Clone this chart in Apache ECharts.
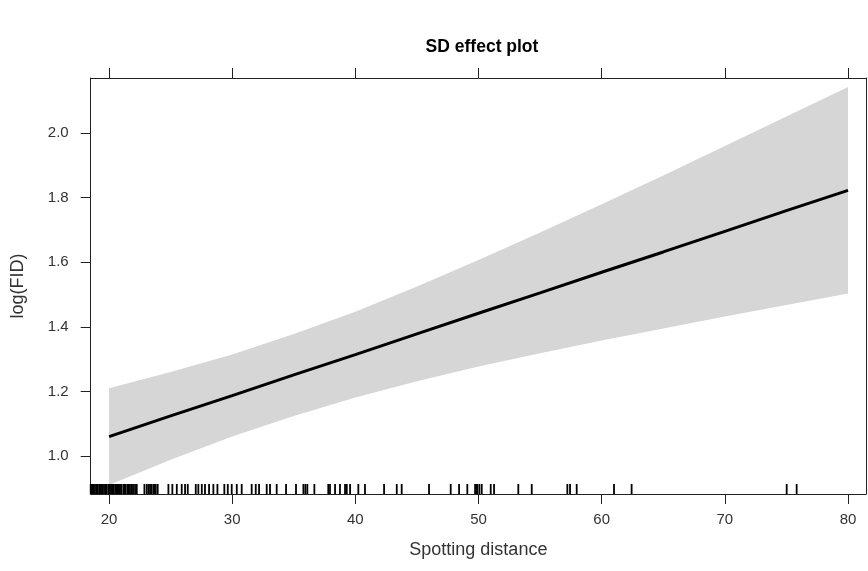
<!DOCTYPE html>
<html>
<head>
<meta charset="utf-8">
<script src="https://cdn.jsdelivr.net/npm/echarts@6/dist/echarts.min.js"></script>
<style>
html,body{margin:0;padding:0;background:#fff;}
#chart{width:868px;height:571px;}
</style>
</head>
<body>
<div id="chart"></div>
<script>
// ---- data ----
const xTicks = [20, 30, 40, 50, 60, 70, 80];
const yTicks = [1.0, 1.2, 1.4, 1.6, 1.8, 2.0];
const sd = [20, 25, 30, 35, 40, 45, 50, 55, 60, 65, 70, 75, 80];
const fit = [1.060, 1.124, 1.187, 1.251, 1.314, 1.378, 1.442, 1.505, 1.569, 1.632, 1.696, 1.760, 1.823];
const lower = [0.910, 0.988, 1.060, 1.124, 1.181, 1.231, 1.277, 1.318, 1.358, 1.395, 1.432, 1.468, 1.503];
const upper = [1.210, 1.260, 1.314, 1.378, 1.447, 1.525, 1.607, 1.692, 1.780, 1.869, 1.960, 2.052, 2.143];
const rugSD = [18.51, 18.55, 18.65, 18.75, 18.86, 19.00, 19.08, 19.20, 19.27, 19.35, 19.46, 19.59, 19.70,
  19.81, 19.95, 20.05, 20.16, 20.25, 20.35, 20.49, 20.60, 20.68, 20.80, 20.89, 21.00, 21.16, 21.25,
  21.35, 21.50, 21.60, 21.70, 21.84, 21.95, 22.11, 22.25, 22.87, 23.06, 23.20, 23.33, 23.45, 23.60,
  23.70, 23.79, 23.95, 24.82,
  25.14, 25.50, 25.90, 26.17, 26.39, 27.04, 27.25, 27.53, 27.79, 28.12, 28.47, 28.80, 29.36, 29.64,
  29.96, 30.37, 30.77, 31.58, 31.91, 32.18, 32.80, 33.07, 33.61, 34.37, 35.18, 35.78, 35.94, 36.10,
  36.67, 37.80, 37.94, 38.35, 38.75, 39.16, 39.30, 39.57, 40.24, 40.78, 42.33, 43.36, 43.76, 45.98,
  47.74, 48.42, 49.09, 49.72, 49.86, 49.90, 50.07, 50.26, 50.99, 51.26, 53.23, 54.32, 57.21, 57.43,
  57.97, 61.00, 62.43, 75.02, 75.83];

const xMin = 18.51, xMax = 81.46;
const yMin = 0.882, yMax = 2.171;

// ---- build ----
const font = 'Liberation Sans, Arial, sans-serif';
const axisCol = '#222';
const fitData = sd.map((x, i) => [x, fit[i]]);
const rugData = rugSD.map(x => [x, yMin]);

const chart = echarts.init(document.getElementById('chart'), null, {renderer: 'canvas'});
chart.setOption({
  animation: false,
  backgroundColor: '#fff',
  title: {
    text: 'SD effect plot',
    left: 477, top: 33, textAlign: 'center',
    textStyle: {fontFamily: font, fontSize: 17.5, fontWeight: 'bold', color: '#000'}
  },
  grid: {left: 90.7, right: 2, top: 78, bottom: 77, containLabel: false},
  xAxis: [{
    type: 'value', min: xMin, max: xMax, position: 'bottom',
    name: 'Spotting distance', nameLocation: 'middle', nameGap: 47,
    nameTextStyle: {fontFamily: font, fontSize: 18, color: '#333'},
    axisLine: {show: true, onZero: false, lineStyle: {color: axisCol, width: 1}},
    axisTick: {show: true, inside: false, length: 10, customValues: xTicks, lineStyle: {color: axisCol}},
    axisLabel: {show: true, customValues: xTicks, margin: 18, fontFamily: font, fontSize: 15, color: '#333'},
    splitLine: {show: false}
  }, {
    type: 'value', min: xMin, max: xMax, position: 'top',
    axisLine: {show: true, onZero: false, lineStyle: {color: axisCol, width: 1}},
    axisTick: {show: true, inside: false, length: 10, customValues: xTicks, lineStyle: {color: axisCol}},
    axisLabel: {show: false},
    splitLine: {show: false}
  }],
  yAxis: [{
    type: 'value', min: yMin, max: yMax, position: 'left',
    name: 'log(FID)', nameLocation: 'middle', nameGap: 64, nameRotate: 90,
    nameTextStyle: {fontFamily: font, fontSize: 18, color: '#333'},
    axisLine: {show: true, onZero: false, lineStyle: {color: axisCol, width: 1}},
    axisTick: {show: true, inside: false, length: 10, customValues: yTicks, lineStyle: {color: axisCol}},
    axisLabel: {show: true, customValues: yTicks, margin: 22, fontFamily: font, fontSize: 15, color: '#333',
      formatter: v => v.toFixed(1)},
    splitLine: {show: false}
  }, {
    type: 'value', min: yMin, max: yMax, position: 'right',
    axisLine: {show: true, onZero: false, lineStyle: {color: axisCol, width: 1}},
    axisTick: {show: false}, axisLabel: {show: false}, splitLine: {show: false}
  }],
  series: [{
    type: 'custom', name: 'band', data: [[sd[0], lower[0]]], z: 1, silent: true,
    renderItem: (params, api) => {
      const pts = [];
      for (let i = 0; i < sd.length; i++) pts.push(api.coord([sd[i], upper[i]]));
      for (let i = sd.length - 1; i >= 0; i--) pts.push(api.coord([sd[i], lower[i]]));
      return {type: 'polygon', shape: {points: pts}, style: {fill: '#d6d6d6', stroke: null}};
    }
  }, {
    type: 'line', name: 'fit', data: fitData, symbol: 'none',
    lineStyle: {color: '#000', width: 3}, z: 3
  }, {
    type: 'custom', name: 'rug', data: rugData, z: 4,
    renderItem: (params, api) => {
      const p = api.coord([api.value(0), api.value(1)]);
      return {
        type: 'line',
        shape: {x1: p[0], y1: p[1], x2: p[0], y2: p[1] - 10},
        style: {stroke: '#000', lineWidth: 1.8}
      };
    }
  }]
});
</script>
</body>
</html>
